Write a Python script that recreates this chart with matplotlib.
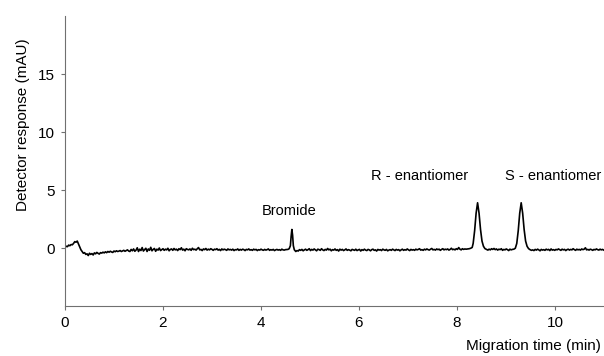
import matplotlib
matplotlib.use("Agg")
import matplotlib.pyplot as plt
from matplotlib import font_manager

plt.rcParams['font.family'] = ['Liberation Sans', 'DejaVu Sans']
names = sorted(set(f.name for f in font_manager.fontManager.ttflist))
narrow = 'Liberation Sans Narrow' if 'Liberation Sans Narrow' in names else 'Liberation Sans'

# trace (time in min, response in mAU)
time_start = [0.00, 0.025, 0.05, 0.075, 0.10, 0.125, 0.15, 0.175, 0.20, 0.225,
              0.25, 0.275, 0.30, 0.325, 0.35, 0.375, 0.40, 0.425, 0.45, 0.475, 0.50]
resp_start = [0.05, 0.15, 0.12, 0.25, 0.20, 0.30, 0.28, 0.40, 0.55, 0.50,
              0.60, 0.35, 0.10, -0.15, -0.30, -0.45, -0.40, -0.55, -0.50, -0.65, -0.45]

base1_t = [0.525 + 0.025 * i for i in range(160)]
base1_y = [-0.55, -0.48, -0.60, -0.42, -0.50, -0.38, -0.46, -0.52, -0.40, -0.44,
           -0.36, -0.42, -0.33, -0.40, -0.30, -0.36, -0.28, -0.34, -0.38, -0.26,
           -0.32, -0.24, -0.30, -0.27, -0.22, -0.30, -0.25, -0.20, -0.28, -0.22,
           -0.16, -0.26, -0.30, -0.12, -0.24, -0.08, -0.28, -0.18, 0.02, -0.30,
           -0.10, -0.22, 0.04, -0.26, -0.14, -0.02, -0.30, -0.08, -0.20, 0.06,
           -0.24, -0.12, -0.04, -0.28, -0.10, -0.18, 0.00, -0.22, -0.14, -0.06,
           -0.20, -0.10, -0.16, -0.02, -0.24, -0.12, -0.08, -0.20, -0.04, -0.16,
           -0.10, -0.22, -0.06, -0.14, 0.02, -0.18, -0.10, -0.24, -0.06, -0.12,
           -0.16, -0.08, -0.20, -0.02, -0.14, -0.10, -0.18, -0.06, 0.04, -0.16,
           -0.12, -0.22, -0.08, -0.14, -0.04, -0.18, -0.10, -0.16, -0.06, -0.12,
           -0.20, -0.10, -0.14, -0.06, -0.18, -0.12, -0.22, -0.08, -0.16, -0.10,
           -0.14, -0.20, -0.08, -0.16, -0.12, -0.18, -0.10, -0.22, -0.14, -0.16,
           -0.08, -0.20, -0.12, -0.18, -0.10, -0.14, -0.22, -0.12, -0.16, -0.08,
           -0.18, -0.14, -0.20, -0.10, -0.16, -0.12, -0.22, -0.14, -0.18, -0.10,
           -0.16, -0.20, -0.12, -0.18, -0.14, -0.08, -0.20, -0.14, -0.18, -0.12,
           -0.22, -0.16, -0.12, -0.18, -0.14, -0.20, -0.10, -0.16, -0.18, -0.14]

bromide_t = [4.55, 4.575, 4.60, 4.615, 4.63, 4.645, 4.66, 4.68, 4.71, 4.735, 4.76, 4.785]
bromide_y = [-0.12, -0.06, 0.20, 1.00, 1.60, 1.10, 0.20, -0.15, -0.30, -0.22, -0.26, -0.14]

base2_t = [4.81 + 0.025 * i for i in range(136)]
base2_y = [-0.20, -0.12, -0.24, -0.16, -0.10, -0.20, -0.14, -0.06, -0.22, -0.12,
           -0.18, -0.08, -0.16, -0.24, -0.10, -0.14, -0.20, -0.06, -0.16, -0.22,
           -0.12, -0.18, -0.04, -0.16, -0.10, -0.24, -0.14, -0.18, -0.08, -0.20,
           -0.14, -0.26, -0.10, -0.18, -0.12, -0.22, -0.16, -0.08, -0.20, -0.14,
           -0.18, -0.24, -0.12, -0.16, -0.20, -0.10, -0.22, -0.16, -0.12, -0.26,
           -0.14, -0.20, -0.10, -0.18, -0.22, -0.12, -0.16, -0.24, -0.14, -0.10,
           -0.20, -0.16, -0.26, -0.12, -0.18, -0.14, -0.22, -0.10, -0.16, -0.20,
           -0.12, -0.24, -0.18, -0.14, -0.20, -0.10, -0.16, -0.22, -0.12, -0.18,
           -0.14, -0.24, -0.16, -0.10, -0.20, -0.14, -0.18, -0.08, -0.16, -0.22,
           -0.12, -0.18, -0.14, -0.20, -0.10, -0.16, -0.12, -0.06, -0.18, -0.14,
           -0.20, -0.10, -0.16, -0.08, -0.14, -0.18, -0.10, -0.04, -0.16, -0.12,
           -0.18, -0.08, -0.14, -0.10, -0.20, -0.12, -0.06, -0.16, -0.10, -0.14,
           -0.08, -0.18, -0.12, -0.02, -0.14, -0.10, -0.16, -0.06, -0.12, 0.04,
           -0.10, -0.16, -0.06, -0.12, -0.08, -0.10]

r_peak_t = [8.25, 8.28, 8.31, 8.33, 8.36, 8.39, 8.42, 8.45, 8.48, 8.51, 8.54, 8.57, 8.60, 8.63]
r_peak_y = [-0.06, -0.02, 0.05, 0.40, 1.50, 3.00, 3.90, 3.00, 1.60, 0.60, 0.15, -0.05, -0.12, -0.18]

base3_t = [8.655 + 0.025 * i for i in range(20)]
base3_y = [-0.10, -0.16, -0.06, -0.12, -0.04, -0.14, -0.08, -0.18, -0.10, -0.14,
           -0.06, -0.20, -0.12, -0.16, -0.08, -0.14, -0.22, -0.10, -0.16, -0.12]

s_peak_t = [9.16, 9.19, 9.22, 9.25, 9.28, 9.31, 9.34, 9.37, 9.40, 9.43, 9.46, 9.49, 9.52]
s_peak_y = [-0.10, -0.02, 0.40, 1.50, 3.00, 3.90, 3.00, 1.60, 0.60, 0.15, -0.05, -0.14, -0.20]

base4_t = [9.545 + 0.025 * i for i in range(59)]
base4_y = [-0.16, -0.22, -0.12, -0.18, -0.10, -0.16, -0.24, -0.12, -0.18, -0.14,
           -0.20, -0.10, -0.16, -0.12, -0.22, -0.08, -0.18, -0.14, -0.20, -0.12,
           -0.16, -0.08, -0.14, -0.20, -0.10, -0.16, -0.12, -0.22, -0.14, -0.10,
           -0.18, -0.12, -0.16, -0.06, -0.14, -0.20, -0.10, -0.16, -0.12, -0.18,
           -0.08, -0.14, -0.10, 0.02, -0.16, -0.12, -0.18, -0.10, -0.14, -0.20,
           -0.12, -0.16, -0.08, -0.14, -0.18, -0.10, -0.16, -0.12, -0.18]

time = time_start + base1_t + bromide_t + base2_t + r_peak_t + base3_t + s_peak_t + base4_t
resp = resp_start + base1_y + bromide_y + base2_y + r_peak_y + base3_y + s_peak_y + base4_y

labels = ["Bromide", "R - enantiomer", "S - enantiomer"]
label_x = [4.57, 7.24, 9.96]
label_y = [2.6, 5.6, 5.6]

fig = plt.figure(figsize=(6.04, 3.56), dpi=100)
ax = fig.add_axes([0.1076, 0.1404, 0.8924, 0.8146])
ax.plot(time, resp, color='black', lw=1.2)

for txt, x, y in zip(labels, label_x, label_y):
    ax.text(x, y, txt, ha='center', va='bottom', fontsize=10.5)

ax.set_xlim(0, 11)
ax.set_ylim(-5, 20)
ax.set_xticks([0, 2, 4, 6, 8, 10])
ax.set_yticks([0, 5, 10, 15])
ax.tick_params(labelsize=11, length=3, color='#707070', pad=4)
for s in ['top', 'right']:
    ax.spines[s].set_visible(False)
for s in ['left', 'bottom']:
    ax.spines[s].set_color('#707070')

fig.text(0.038, 0.65, "Detector response (mAU)", rotation=90, ha='center', va='center',
         fontsize=11, family=[narrow, 'DejaVu Sans'])
fig.text(0.995, 0.028, "Migration time (min)", ha='right', va='center', fontsize=11)

fig.savefig("out.png", dpi=100)
